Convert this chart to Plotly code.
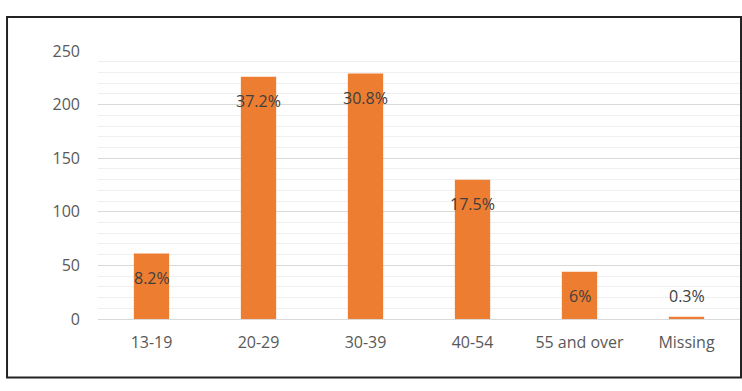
import plotly.graph_objects as go

categories = ["13-19", "20-29", "30-39", "40-54", "55 and over", "Missing"]
counts = [61, 226, 229, 130, 44, 2]
pct_labels = ["8.2%", "37.2%", "30.8%", "17.5%", "6%", "0.3%"]
y_ticks = [0, 50, 100, 150, 200, 250]

BAR = "#ED7D31"
FONT = "'Open Sans', Lato, sans-serif"

fig = go.Figure(go.Bar(x=categories, y=counts, marker=dict(color=BAR, line=dict(width=0)),
                       hoverinfo="skip"))

for c, v, t in zip(categories, counts, pct_labels):
    inside = v > 20
    fig.add_annotation(x=c, y=v, text=t, showarrow=False,
                       yanchor="top" if inside else "bottom",
                       yshift=-11 if inside else 8,
                       font=dict(family=FONT, size=16, color="#404040"))

fig.update_layout(
    width=742, height=391,
    margin=dict(l=98, r=2, t=51, b=72),
    paper_bgcolor="white", plot_bgcolor="white",
    bargap=0.67, showlegend=False,
    font=dict(family=FONT, size=16, color="#595959"),
    xaxis=dict(showgrid=False, showline=False, ticks="", ticklabelstandoff=12,
               tickfont=dict(family=FONT, size=16, color="#595959")),
    yaxis=dict(range=[0, 250], tickvals=y_ticks, showgrid=True, gridcolor="#d9d9d9",
               gridwidth=1, zeroline=True, zerolinecolor="#d9d9d9", zerolinewidth=1,
               showline=False, ticks="", ticklabelstandoff=17,
               minor=dict(dtick=10, showgrid=True, gridcolor="#efefef", gridwidth=1),
               tickfont=dict(family=FONT, size=16, color="#595959")),
    shapes=[dict(type="rect", xref="paper", yref="paper",
                 x0=-0.1417, x1=1.0016, y0=-0.2185, y1=1.1273,
                 line=dict(color="#222222", width=2), layer="above")],
)

fig.write_html("out.html", config={"displayModeBar": False},
               post_script="document.body.style.margin='0';")
